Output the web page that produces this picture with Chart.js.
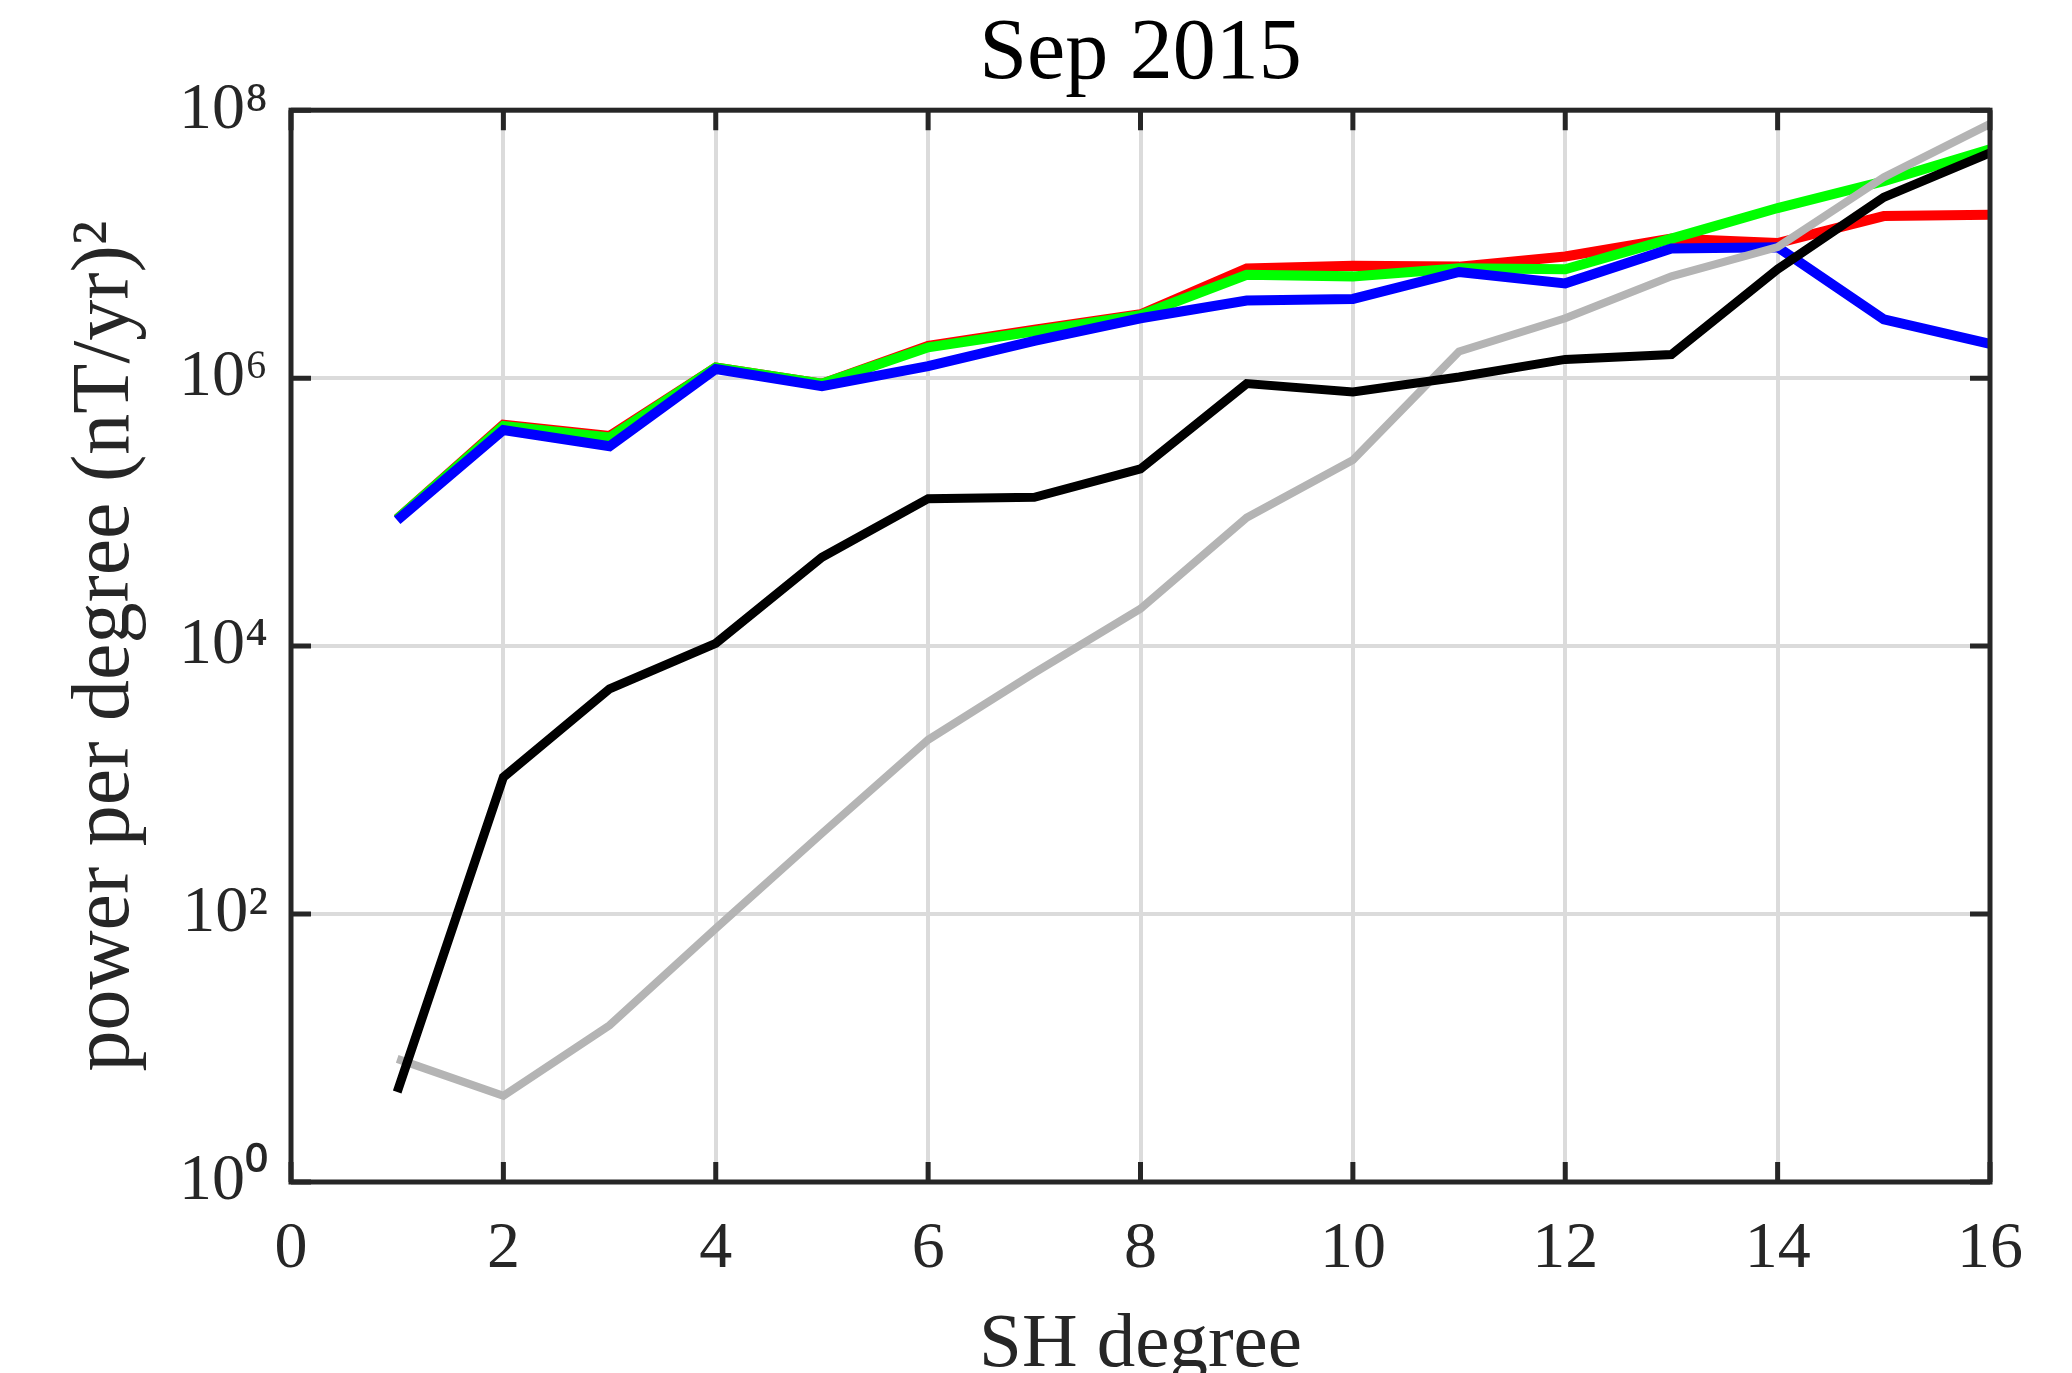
<!DOCTYPE html>
<html>
<head>
<meta charset="utf-8">
<script src="https://cdn.jsdelivr.net/npm/chart.js@4.4.0/dist/chart.umd.min.js"></script>
<style>
  html, body { margin: 0; padding: 0; background: #ffffff; }
  #wrap { width: 2072px; height: 1373px; }
</style>
</head>
<body>
<div id="wrap"><canvas id="c" width="2072" height="1373"></canvas></div>
<script>
// ---- data ----
const degrees = [1, 2, 3, 4, 5, 6, 7, 8, 9, 10, 11, 12, 13, 14, 15, 16];
const redSeries   = [8.9e4, 4.5e5, 3.7e5, 1.2e6, 9.1e5, 1.74e6, 2.3e6, 3.0e6, 6.6e6, 6.9e6, 6.8e6, 8.1e6, 1.1e7, 1.02e7, 1.62e7, 1.66e7];
const greenSeries = [8.9e4, 4.4e5, 3.6e5, 1.2e6, 9.1e5, 1.7e6, 2.24e6, 2.95e6, 5.9e6, 5.75e6, 6.6e6, 6.5e6, 1.1e7, 1.86e7, 2.95e7, 5.1e7];
const blueSeries  = [8.7e4, 4.1e5, 3.1e5, 1.17e6, 8.7e5, 1.23e6, 1.9e6, 2.8e6, 3.8e6, 3.9e6, 6.2e6, 5.1e6, 9.3e6, 9.5e6, 2.75e6, 1.8e6];
const blackSeries = [4.7, 1.05e3, 4.8e3, 1.05e4, 4.6e4, 1.26e5, 1.29e5, 2.1e5, 9.1e5, 7.9e5, 1.02e6, 1.38e6, 1.5e6, 6.5e6, 2.24e7, 4.8e7];
const graySeries  = [8.3, 4.4, 14.8, 78, 400, 2.0e3, 6.3e3, 1.9e4, 9.1e4, 2.45e5, 1.58e6, 2.8e6, 5.75e6, 9.5e6, 3.16e7, 7.9e7];
const xTickValues = [0, 2, 4, 6, 8, 10, 12, 14, 16];
const yTickValues = [1, 1e2, 1e4, 1e6, 1e8];
const yTickLabels = ['10\u2070', '10\u00B2', '10\u2074', '10\u2076', '10\u2078'];
const titleText = 'Sep 2015';
const xLabel = 'SH degree';
const yLabel = 'power per degree (nT/yr)\u00B2';

const FONT = "'Liberation Serif', 'Times New Roman', serif";
const AXIS_COLOR = '#262626';

function pts(arr) { return degrees.map((d, i) => ({ x: d, y: arr[i] })); }

const boxPlugin = {
  id: 'boxTicks',
  afterLayout(chart) {
    // centre the title over the plot area, as in the reference
    if (chart.titleBlock) {
      chart.titleBlock.left = chart.chartArea.left;
      chart.titleBlock.right = chart.chartArea.right;
    }
  },
  afterDatasetsDraw(chart) {
    const { ctx, chartArea: a, scales } = chart;
    const tl = 20;
    ctx.save();
    ctx.strokeStyle = AXIS_COLOR;
    ctx.lineWidth = 5;
    ctx.beginPath();
    xTickValues.forEach(v => {
      const px = scales.x.getPixelForValue(v);
      ctx.moveTo(px, a.bottom); ctx.lineTo(px, a.bottom - tl);
      ctx.moveTo(px, a.top); ctx.lineTo(px, a.top + tl);
    });
    yTickValues.forEach(v => {
      const py = scales.y.getPixelForValue(v);
      ctx.moveTo(a.left, py); ctx.lineTo(a.left + tl, py);
      ctx.moveTo(a.right, py); ctx.lineTo(a.right - tl, py);
    });
    ctx.stroke();
    ctx.lineJoin = 'miter';
    ctx.strokeRect(a.left, a.top, a.right - a.left, a.bottom - a.top);
    ctx.restore();
  }
};

const ds = (label, data, color, width) => ({
  label, data: pts(data), borderColor: color, backgroundColor: color,
  borderWidth: width, pointRadius: 0, tension: 0, fill: false,
  borderJoinStyle: 'miter', borderCapStyle: 'butt'
});

new Chart(document.getElementById('c'), {
  type: 'line',
  data: {
    datasets: [
      ds('black', blackSeries, '#000000', 9),
      ds('gray', graySeries, '#b4b4b4', 8),
      ds('blue', blueSeries, '#0000ff', 10),
      ds('green', greenSeries, '#00ff00', 10),
      ds('red', redSeries, '#ff0000', 10)
    ]
  },
  options: {
    responsive: false,
    animation: false,
    devicePixelRatio: 1,
    layout: { padding: { left: 0, right: 82, top: 0, bottom: 0 } },
    plugins: {
      legend: { display: false },
      tooltip: { enabled: false },
      title: {
        display: true, text: titleText, color: '#000000',
        font: { family: FONT, size: 86, weight: 'normal', lineHeight: 1.2 },
        padding: { top: 4, bottom: 3 }
      }
    },
    scales: {
      x: {
        type: 'linear', min: 0, max: 16,
        afterBuildTicks(s) { s.ticks = xTickValues.map(v => ({ value: v })); },
        afterFit(s) { s.height = 191; },
        grid: { color: '#dbdbdb', lineWidth: 4, drawTicks: false },
        border: { display: false },
        ticks: { color: '#262626', font: { family: FONT, size: 66 }, padding: 28, maxRotation: 0 },
        title: { display: true, text: xLabel, color: '#262626',
                 font: { family: FONT, size: 77, lineHeight: 0.7 }, padding: 0 }
      },
      y: {
        type: 'logarithmic', min: 1, max: 1e8,
        afterBuildTicks(s) { s.ticks = yTickValues.map(v => ({ value: v })); },
        afterFit(s) { s.width = 291; },
        grid: { color: '#dbdbdb', lineWidth: 4, drawTicks: false },
        border: { display: false },
        ticks: {
          color: '#262626', font: { family: FONT, size: 66 }, padding: 23,
          callback(v) { const i = yTickValues.indexOf(v); return i >= 0 ? yTickLabels[i] : ''; }
        },
        title: { display: true, text: yLabel, color: '#262626',
                 font: { family: FONT, size: 82, lineHeight: 1.2 }, padding: { top: 57, bottom: 0 } }
      }
    }
  },
  plugins: [boxPlugin]
});
</script>
</body>
</html>
